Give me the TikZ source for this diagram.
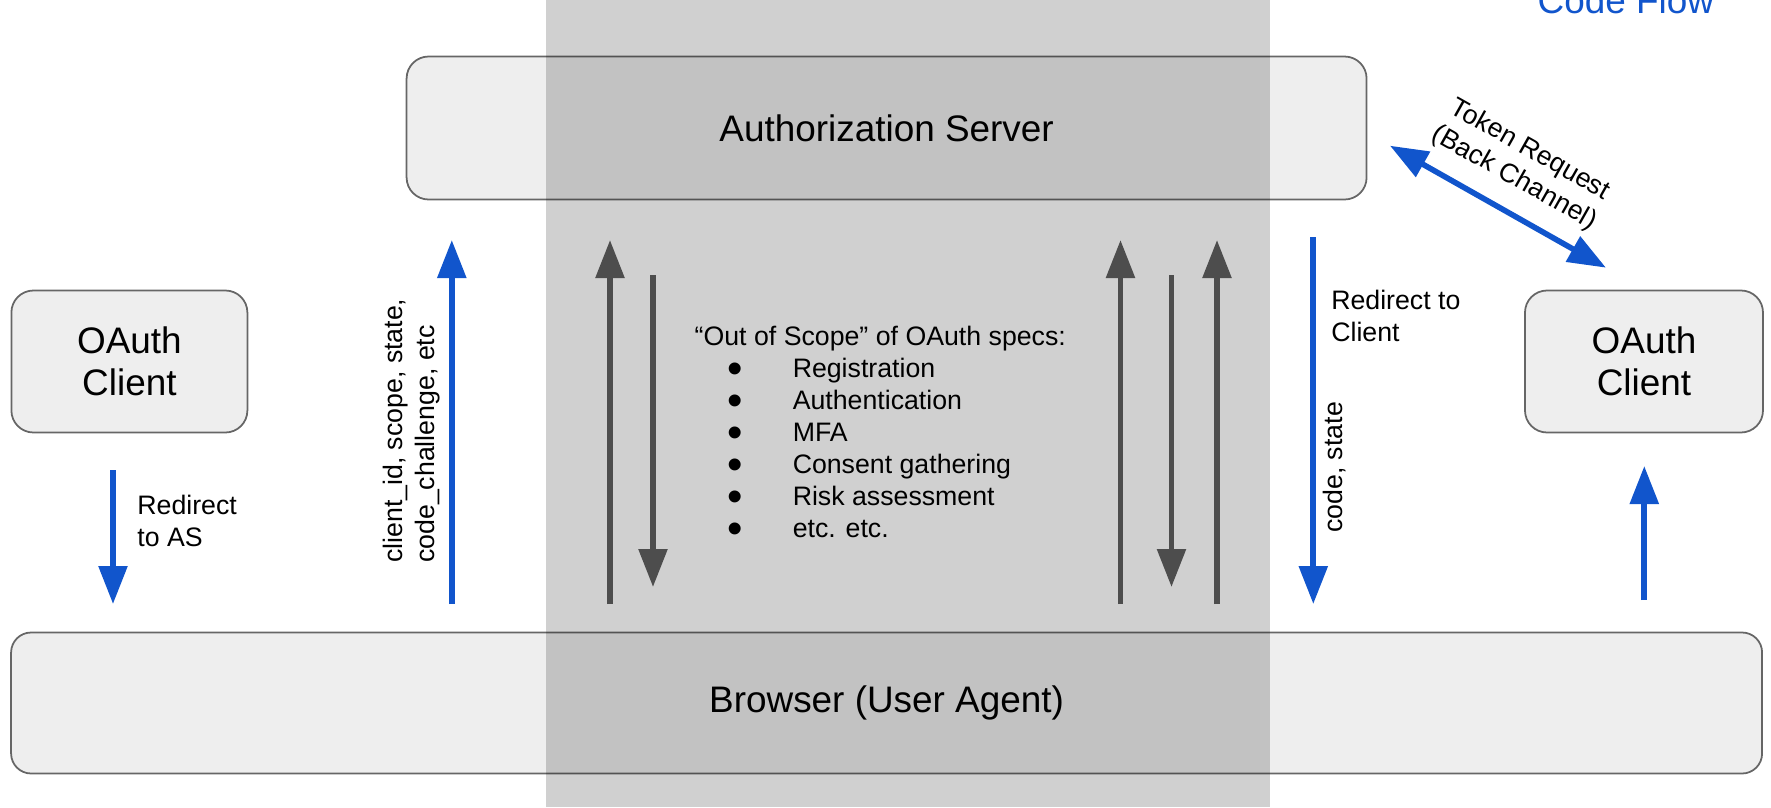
\documentclass[tikz,border=0pt]{standalone}
\usepackage{fontspec}
\setmainfont{Liberation Sans}
\usetikzlibrary{arrows.meta}
\definecolor{flowblue}{HTML}{1155CC}
\definecolor{arrowgray}{HTML}{4D4D4D}
\definecolor{boxfill}{HTML}{EEEEEE}
\definecolor{boxline}{HTML}{666666}
\newcommand{\boxfont}{\fontsize{10.5}{12}\selectfont}
\newcommand{\labelfont}{\fontsize{7.6}{9.1}\selectfont}
\newcommand{\bul}{\makebox[3.5pt]{\raisebox{-1.7pt}{\fontsize{12.5}{9}\selectfont\textbullet}}}

\begin{document}
\begin{tikzpicture}[
  >={Triangle[width=2.8mm,length=3.8mm]},
  every node/.style={font=\labelfont, inner sep=0pt},
  party/.style={draw=boxline, line width=0.5pt, fill=boxfill, rounded corners=2.2mm, align=center, font=\boxfont},
  flow/.style={->, line width=1.6pt, flowblue},
  hidden/.style={->, line width=1.6pt, arrowgray}
]
\path[use as bounding box, clip] (0,0) rectangle (17.71,8.07);

% Parties
\node[party, minimum width=9.60cm, minimum height=1.43cm] (as) at (8.866,6.79) {Authorization Server};
\node[party, minimum width=17.51cm, minimum height=1.41cm, rounded corners=2mm] (browser) at (8.866,1.04) {Browser (User Agent)};
\node[party, minimum width=2.36cm, minimum height=1.42cm] (lclient) at (1.294,4.455) {OAuth\\Client};
\node[party, minimum width=2.38cm, minimum height=1.42cm] (rclient) at (16.44,4.455) {OAuth\\Client};

% Out of scope band
\fill[black, fill opacity=0.185] (5.455,0) rectangle (12.695,8.07);

% Arrow ends
\coordinate (redirtop) at (1.13,3.37);
\coordinate (redirbot) at (1.13,2.03);
\coordinate (authzbot) at (4.518,2.03);
\coordinate (authztop) at (4.518,5.67);
\coordinate (loginup) at (6.10,5.67);
\coordinate (logindown) at (6.53,2.20);
\coordinate (consentup) at (11.205,5.67);
\coordinate (consentdown) at (11.715,2.20);
\coordinate (returnup) at (12.17,5.67);
\coordinate (cbtop) at (13.133,5.70);
\coordinate (cbbot) at (13.133,2.03);
\coordinate (deliverbot) at (16.443,2.07);
\coordinate (delivertop) at (16.443,3.41);
\coordinate (tokenas) at (13.90,6.613);
\coordinate (tokenclient) at (16.06,5.393);

% Front channel
\draw[flow] (redirtop) -- (redirbot);
\draw[flow] (authzbot) -- (authztop);
\draw[flow] (cbtop) -- (cbbot);
\draw[flow] (deliverbot) -- (delivertop);

% Inside the band
\draw[hidden] (loginup |- authzbot) -- (loginup);
\draw[hidden] (logindown |- cbtop) ++(0,-0.38) -- (logindown);
\draw[hidden] (consentup |- authzbot) -- (consentup);
\draw[hidden] (consentdown |- cbtop) ++(0,-0.38) -- (consentdown);
\draw[hidden] (returnup |- authzbot) -- (returnup);

% Back channel
\draw[flow, <->] (tokenas) -- (tokenclient)
  node[midway, sloped, above=5pt, align=center, text=black] (tokenlbl) {Token Request\\(Back Channel)};

% Labels
\node[anchor=west, align=left] (redirlbl) at (1.367,2.86) {Redirect\\to AS};
\node[rotate=90, align=left] (paramlbl) at (4.115,3.763) {client\_id, scope, state,\\code\_challenge, etc};
\node[anchor=west, align=left] (cblbl) at (13.306,4.91) {Redirect to\\Client};
\node[rotate=90] (codelbl) at (13.35,3.396) {code, state};
\node[anchor=north west] (scope) at (6.94,4.847) {%
  \begin{tabular}{@{\hspace{9.9pt}}l@{\hspace{14.5pt}}l@{}}
  \multicolumn{2}{@{}l@{}}{“Out of Scope” of OAuth specs:}\\
  \bul & Registration\\
  \bul & Authentication\\
  \bul & MFA\\
  \bul & Consent gathering\\
  \bul & Risk assessment\\
  \bul & etc. etc.
  \end{tabular}};
\node[anchor=base west, font=\boxfont, text=flowblue] (title) at (15.37,7.937) {Code Flow};

\end{tikzpicture}
\end{document}
